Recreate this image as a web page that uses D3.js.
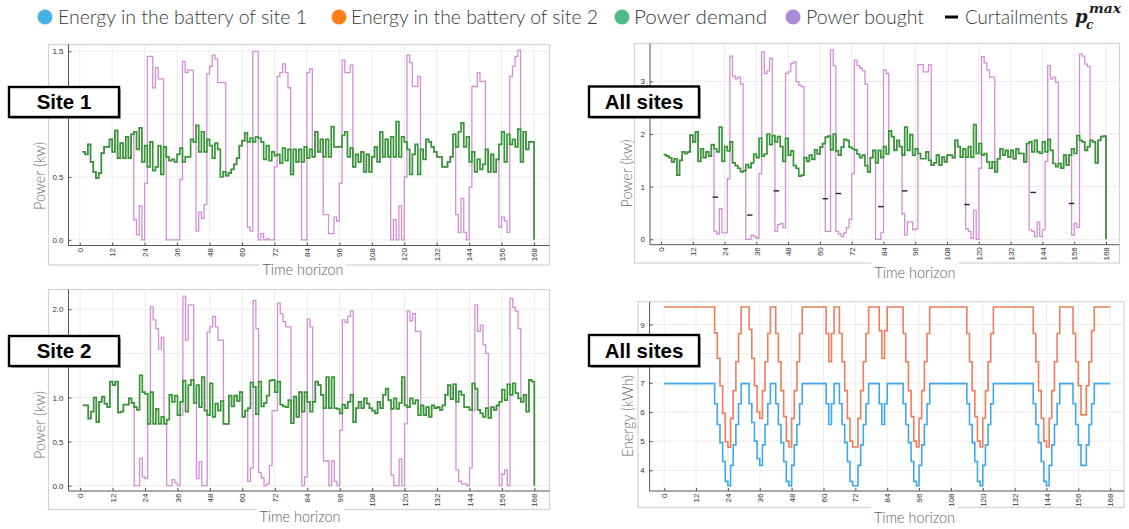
<!DOCTYPE html>
<html>
<head>
<meta charset="utf-8">
<script src="https://cdn.jsdelivr.net/npm/d3@7"></script>
<style>
  html, body { margin: 0; padding: 0; background: #fff; }
  svg { display: block; }
</style>
</head>
<body>
<svg id="chart" width="1129" height="529"></svg>
<script>
// ---------- data ----------
const hourTicks = [0, 12, 24, 36, 48, 60, 72, 84, 96, 108, 120, 132, 144, 156, 168];

const site1PowerTicks = [0, 0.5, 1.0, 1.5];
const site2PowerTicks = [0, 0.5, 1.0, 1.5, 2.0];
const totalPowerTicks = [0, 1, 2, 3];
const energyTicks = [4, 5, 6, 7, 8, 9];

// hourly power values, hours 1..168 (kW)
const site1Demand = [
  0.70,0.68,0.76,0.62,0.54,0.49,0.53,0.69,0.74,0.74,
  0.80,0.70,0.87,0.65,0.77,0.65,0.82,0.65,0.84,0.86,
  0.72,0.89,0.62,0.75,0.58,0.78,0.55,0.58,0.75,0.52,
  0.74,0.66,0.63,0.64,0.62,0.68,0.73,0.62,0.66,0.66,
  0.80,0.78,0.91,0.70,0.86,0.70,0.80,0.75,0.65,0.77,
  0.72,0.50,0.54,0.51,0.53,0.56,0.60,0.65,0.75,0.79,
  0.85,0.78,0.81,0.78,0.82,0.81,0.78,0.64,0.75,0.63,
  0.70,0.67,0.68,0.61,0.73,0.63,0.72,0.52,0.72,0.62,
  0.72,0.62,0.74,0.65,0.72,0.66,0.86,0.70,0.80,0.66,
  0.80,0.66,0.90,0.74,0.74,0.74,0.83,0.86,0.66,0.73,
  0.58,0.68,0.62,0.70,0.54,0.68,0.54,0.66,0.74,0.62,
  0.86,0.66,0.80,0.66,0.82,0.66,0.94,0.66,0.82,0.78,
  0.72,0.52,0.68,0.76,0.52,0.72,0.64,0.80,0.78,0.74,
  0.70,0.66,0.66,0.58,0.58,0.62,0.66,0.84,0.74,0.86,
  0.93,0.74,0.82,0.62,0.70,0.54,0.64,0.56,0.60,0.72,
  0.54,0.68,0.54,0.64,0.76,0.86,0.62,0.84,0.76,0.80,
  0.74,0.88,0.62,0.86,0.72,0.78,0.78,0
];
const site1Bought = [
  0.70,0.68,0.76,0.62,0.54,0.49,0.53,0.69,0.74,0.74,
  0.80,0.70,0.87,0.65,0.77,0.65,0.82,0.65,0.84,0.16,
  0.04,0.27,0.00,0.45,1.46,1.46,1.21,1.37,1.28,1.28,
  0.74,0.00,0.00,0.00,0.00,0.00,0.48,1.42,1.33,1.35,
  1.35,0.78,0.07,0.22,0.17,0.28,1.32,1.38,1.47,1.44,
  1.25,1.25,1.25,0.51,0.53,0.56,0.60,0.65,0.75,0.79,
  0.85,0.10,0.07,1.50,1.50,0.00,0.05,0.00,0.01,0.00,
  0.00,0.58,1.30,1.33,1.40,1.33,1.21,0.52,0.72,0.62,
  0.72,0.00,0.00,1.33,1.36,0.66,0.86,0.70,0.80,0.20,
  0.20,0.05,0.05,0.18,0.15,0.45,1.43,1.33,1.33,1.39,
  0.58,0.68,0.62,0.70,0.54,0.68,0.54,0.66,0.74,0.62,
  0.86,0.66,0.80,0.66,0.00,0.16,0.00,0.27,0.00,0.50,
  1.47,1.41,1.22,1.22,1.30,0.72,0.64,0.80,0.78,0.74,
  0.70,0.66,0.66,0.58,0.58,0.62,0.66,0.84,0.20,0.06,
  0.33,0.06,0.00,0.42,1.22,1.22,1.33,1.26,1.26,0.72,
  0.54,0.68,0.54,0.64,0.10,0.18,0.15,0.06,1.30,1.38,
  1.46,1.51,0.62,0.86,0.72,0.78,0.78,0
];

const site2Demand = [
  0.91,0.91,0.76,0.84,1.00,0.72,0.95,1.01,0.93,0.89,
  1.18,1.14,1.18,0.83,0.84,0.92,0.92,0.99,0.94,0.89,
  0.86,1.25,1.06,1.04,0.70,1.06,0.70,0.87,0.70,0.78,
  0.70,0.75,1.03,0.95,1.02,0.80,0.95,1.19,0.84,1.14,
  1.20,0.94,1.14,0.89,1.23,0.85,0.80,1.16,0.78,0.93,
  0.85,0.96,0.70,0.70,1.02,0.90,1.02,0.96,1.06,0.78,
  0.85,0.88,1.17,1.12,0.81,1.18,0.90,0.94,1.02,1.19,
  1.20,1.06,1.18,0.92,0.90,0.89,0.97,0.71,1.01,0.78,
  1.06,0.84,1.06,0.95,0.84,0.95,1.18,1.14,1.03,0.88,
  1.23,0.88,1.23,0.88,0.87,0.82,0.92,0.88,0.95,1.03,
  0.72,0.88,0.95,0.88,0.99,0.93,0.88,0.85,0.82,0.95,
  0.88,1.03,1.10,0.97,0.87,0.99,0.87,0.94,1.23,0.91,
  0.89,0.99,0.93,0.97,0.80,0.91,0.80,0.89,0.78,0.91,
  0.88,0.89,0.86,0.91,1.03,1.14,0.98,1.15,0.95,1.07,
  1.03,0.89,0.89,0.86,1.16,1.10,0.86,0.82,0.78,0.88,
  0.77,0.89,0.86,0.91,0.95,1.09,0.97,1.15,1.03,1.16,
  1.05,0.99,0.95,1.03,0.84,1.20,1.18,0
];
const site2Bought = [
  0.91,0.91,0.76,0.84,1.00,0.72,0.95,1.01,0.93,0.89,
  1.18,1.14,1.18,0.83,0.84,0.92,0.92,0.99,0.94,0.00,
  0.00,0.31,0.10,0.08,0.70,2.03,1.88,1.78,1.55,1.68,
  0.70,0.00,0.00,0.07,0.03,0.00,0.80,2.15,1.65,2.05,
  2.05,0.94,0.08,0.27,0.00,0.00,1.74,1.80,1.92,1.80,
  1.65,1.65,0.70,0.70,1.02,0.90,1.02,0.96,1.06,0.78,
  0.85,0.05,0.20,2.10,1.78,0.15,0.09,0.00,0.02,0.23,
  0.85,0.85,2.07,1.95,1.86,1.80,1.80,0.71,1.01,0.78,
  1.06,0.00,0.10,1.89,1.80,0.95,1.18,1.14,1.03,0.28,
  0.28,0.00,0.28,0.05,0.00,0.63,1.88,1.85,1.92,1.98,
  0.72,0.88,0.95,0.88,0.99,0.93,0.88,0.85,0.82,0.95,
  0.88,1.03,1.10,0.97,0.12,0.00,0.00,0.30,0.00,0.70,
  1.98,1.87,1.95,1.75,1.75,0.91,0.80,0.89,0.78,0.91,
  0.88,0.89,0.86,0.91,1.03,1.14,0.98,1.15,0.18,0.05,
  0.02,0.02,0.00,0.20,0.85,2.05,1.75,1.82,1.60,1.50,
  0.77,0.89,0.86,0.91,0.00,0.13,0.18,0.00,2.12,2.02,
  1.98,1.78,0.95,1.03,0.84,1.20,1.18,0
];

const totalDemand = [
  1.61,1.58,1.55,1.47,1.53,1.22,1.50,1.66,1.63,1.66,
  1.98,1.85,2.04,1.48,1.72,1.55,1.66,1.58,1.80,1.72,
  1.66,2.13,1.48,1.76,1.68,1.85,1.45,1.40,1.35,1.28,
  1.30,1.42,1.36,1.45,1.62,1.55,1.92,1.58,1.62,2.00,
  1.80,1.97,1.85,1.95,1.76,1.48,1.92,1.60,1.68,1.40,
  1.35,1.20,1.22,1.55,1.48,1.60,1.52,1.70,1.62,1.75,
  1.82,1.94,1.96,1.70,2.00,1.68,1.60,1.75,1.90,1.88,
  1.75,1.72,1.70,1.62,1.55,1.60,1.40,1.28,1.55,1.69,
  1.45,1.69,1.55,1.76,1.62,2.06,1.95,1.69,1.88,1.76,
  1.60,2.13,1.69,1.99,1.60,1.72,1.63,1.53,1.53,1.66,
  1.50,1.41,1.45,1.60,1.41,1.56,1.47,1.60,1.60,1.55,
  1.88,1.76,1.56,1.72,1.56,1.76,1.56,2.18,1.63,1.82,
  1.60,1.63,1.47,1.35,1.47,1.28,1.53,1.72,1.60,1.69,
  1.56,1.69,1.53,1.72,1.63,1.63,1.47,1.82,1.85,1.66,
  1.88,1.66,1.63,1.85,1.66,1.90,1.69,1.44,1.38,1.44,
  1.35,1.60,1.41,1.60,1.72,1.63,1.97,1.88,1.85,1.69,
  1.76,1.88,1.85,1.45,1.88,1.95,1.96,0
];
const totalBought = [
  1.61,1.58,1.55,1.47,1.53,1.22,1.50,1.66,1.63,1.66,
  1.98,1.85,2.04,1.48,1.72,1.55,1.66,1.58,1.80,0.15,
  0.10,0.58,0.12,0.12,1.15,3.48,3.10,3.05,3.08,2.95,
  1.30,0.00,0.00,0.08,0.05,0.02,1.25,3.56,3.15,3.20,
  3.44,1.97,0.15,0.28,0.30,0.22,3.15,3.18,3.34,3.37,
  2.99,2.93,2.90,1.55,1.48,1.60,1.52,1.70,1.62,1.75,
  1.82,0.15,0.15,3.60,3.30,0.15,0.10,0.05,0.12,0.22,
  0.38,1.25,3.40,3.30,3.25,3.20,2.95,1.28,1.55,1.69,
  0.00,0.00,0.13,3.22,3.15,2.06,1.95,1.69,1.88,1.76,
  0.48,0.08,0.33,0.33,0.18,0.20,3.32,3.32,3.18,3.18,
  3.32,1.41,1.45,1.60,1.41,1.56,1.47,1.60,1.60,1.55,
  1.88,1.76,1.56,1.72,0.20,0.15,0.02,0.55,0.00,1.35,
  3.47,3.35,3.22,3.08,3.08,1.28,1.53,1.72,1.60,1.69,
  1.56,1.69,1.53,1.72,1.63,1.63,1.47,1.82,0.18,0.15,
  0.05,0.33,0.05,0.18,1.48,3.30,3.05,3.08,2.98,1.44,
  1.35,1.60,1.41,1.60,0.08,0.30,0.22,3.52,3.48,3.33,
  3.28,1.88,1.85,1.45,1.88,1.95,1.96,0
];

// curtailment markers (hour, kW)
const curtailHours  = [20.5, 33.5, 43.5, 62, 67, 83, 92, 115.5, 140.5, 155];
const curtailValues = [0.80, 0.46, 0.92, 0.77, 0.87, 0.62, 0.92, 0.66, 0.89, 0.68];

// battery energy, hours 0..168 (kWh)
const energySite1 = [
  6.97,6.97,6.97,6.97,6.97,6.97,6.97,6.97,6.97,6.97,      // 0-9
  6.97,6.97,6.97,6.97,6.97,6.97,6.97,6.97,6.97,           // 10-18
  6.28,5.57,4.95,4.30,3.62,3.47,4.17,4.87,5.57,6.28,      // 19-28
  6.97,6.97,6.97,                                          // 29-31
  6.28,5.64,5.00,4.40,4.17,4.87,5.57,6.28,                // 32-39
  6.97,6.97,                                               // 40-41
  6.28,5.57,4.95,4.30,3.62,3.47,4.17,4.87,5.57,6.28,      // 42-51
  6.97,6.97,6.97,6.97,6.97,6.97,6.97,6.97,6.97,           // 52-60
  6.28,5.57,6.28,                                          // 61-63
  6.97,6.97,                                               // 64-65
  6.28,5.57,4.95,4.30,3.62,3.47,3.47,4.17,4.87,5.57,6.28, // 66-76
  6.97,6.97,6.97,6.97,                                     // 77-80
  6.28,5.57,6.28,                                          // 81-83
  6.97,6.97,6.97,6.97,6.97,6.97,                           // 84-89
  6.28,5.57,4.95,4.30,3.62,3.47,4.17,4.87,5.57,6.28,      // 90-99
  6.97,6.97,6.97,6.97,6.97,6.97,6.97,6.97,6.97,6.97,6.97,6.97,6.97,6.97, // 100-113
  6.28,5.57,4.95,4.30,3.62,3.47,4.17,4.87,5.57,6.28,      // 114-123
  6.97,6.97,6.97,6.97,6.97,6.97,6.97,6.97,6.97,6.97,6.97,6.97,6.97,6.97,6.97, // 124-138
  6.28,5.57,4.95,4.30,3.62,3.47,4.17,4.87,5.57,6.28,      // 139-148
  6.97,6.97,6.97,6.97,6.97,                                // 149-153
  6.28,5.57,4.87,4.17,4.17,4.87,5.57,6.28,                // 154-161
  6.97,6.97,6.97,6.97,6.97,6.97,6.97                       // 162-168
];
const energySite2 = [
  9.6,9.6,9.6,9.6,9.6,9.6,9.6,9.6,9.6,9.6,                // 0-9
  9.6,9.6,9.6,9.6,9.6,9.6,9.6,9.6,9.6,                    // 10-18
  8.71,7.84,6.90,5.95,4.98,4.79,5.78,6.73,7.72,8.69,      // 19-28
  9.6,9.6,9.6,                                             // 29-31
  8.83,7.84,6.90,6.00,5.78,6.73,7.72,8.69,                // 32-39
  9.6,9.6,                                                 // 40-41
  8.69,7.72,6.73,5.84,5.00,4.80,5.78,6.73,7.72,8.69,      // 42-51
  9.6,9.6,9.6,9.6,9.6,9.6,9.6,9.6,9.6,                    // 52-60
  8.69,7.72,8.69,                                          // 61-63
  9.6,9.6,                                                 // 64-65
  8.69,7.72,6.73,5.78,5.00,4.80,4.80,5.78,6.73,7.72,8.69, // 66-76
  9.6,9.6,9.6,9.6,                                         // 77-80
  8.79,7.84,8.79,                                          // 81-83
  9.6,9.6,9.6,9.6,9.6,9.6,                                 // 84-89
  8.69,7.72,6.73,5.84,5.00,4.80,5.78,6.73,7.72,8.69,      // 90-99
  9.6,9.6,9.6,9.6,9.6,9.6,9.6,9.6,9.6,9.6,9.6,9.6,9.6,9.6, // 100-113
  8.69,7.72,6.73,5.84,5.00,4.80,5.78,6.73,7.72,8.69,      // 114-123
  9.6,9.6,9.6,9.6,9.6,9.6,9.6,9.6,9.6,9.6,9.6,9.6,9.6,9.6,9.6, // 124-138
  8.69,7.72,6.73,5.78,5.00,4.80,5.78,6.73,7.72,8.69,      // 139-148
  9.6,9.6,9.6,9.6,9.6,                                     // 149-153
  8.69,7.72,6.90,5.90,5.90,6.90,7.72,8.79,                // 154-161
  9.6,9.6,9.6,9.6,9.6,9.6,9.6                              // 162-168
];

// ---------- styling ----------
const COLORS = {
  demand: "#379537",
  bought: "#d48ed8",
  energy1: "#3ea8ef",
  energy2: "#ef7d5b",
  legendBlue: "#45b1e6",
  legendOrange: "#ff7f1a",
  legendGreen: "#4fba84",
  legendPurple: "#a98ad9"
};
const LIGHT_FONT = "Lato, 'Helvetica Neue', 'Open Sans', sans-serif";
const TICK_FONT = "'Liberation Sans', Arial, sans-serif";
const BOLD_FONT = "'Liberation Sans', Arial, Helvetica, sans-serif";

const svg = d3.select("#chart");

const panels = [
  {
    frame: [48.5, 44.5, 549.5, 265], left: 68.5, right: 549.5, top: 44.5, bottom: 245.5,
    xDomain: [-4.15, 173.7], yDomain: [-0.045, 1.554], yTicks: site1PowerTicks, fmt: d3.format(".1f"),
    series: [
      { values: site1Bought, start: 1, color: COLORS.bought, width: 1.3 },
      { values: site1Demand, start: 1, color: COLORS.demand, width: 1.7 }
    ],
    ylabel: "Power (kw)", ylabelPos: [38.5, 176], ylabelLen: 68,
    xlabelPos: [303, 275], tag: "Site 1", tagBox: [9, 87, 110, 30]
  },
  {
    frame: [634.5, 43.5, 1119.5, 263], left: 650, right: 1119.5, top: 43.5, bottom: 244.7,
    xDomain: [-4.16, 173.1], yDomain: [-0.103, 3.72], yTicks: totalPowerTicks, fmt: d3.format("d"),
    series: [
      { values: totalBought, start: 1, color: COLORS.bought, width: 1.3 },
      { values: totalDemand, start: 1, color: COLORS.demand, width: 1.7 }
    ],
    curtail: true,
    ylabel: "Power (kw)", ylabelPos: [625.5, 173.5], ylabelLen: 68,
    xlabelPos: [915, 278], tag: "All sites", tagBox: [589, 86.5, 110, 30.5]
  },
  {
    frame: [48.5, 289.5, 549.5, 509.5], left: 68.5, right: 549.5, top: 289.5, bottom: 491,
    xDomain: [-4.3, 173.6], yDomain: [-0.06, 2.224], yTicks: site2PowerTicks, fmt: d3.format(".1f"),
    series: [
      { values: site2Bought, start: 1, color: COLORS.bought, width: 1.3 },
      { values: site2Demand, start: 1, color: COLORS.demand, width: 1.7 }
    ],
    ylabel: "Power (kw)", ylabelPos: [39, 425], ylabelLen: 68,
    xlabelPos: [300, 521.5], tag: "Site 2", tagBox: [9, 336, 110, 30]
  },
  {
    frame: [638, 301.7, 1124, 507.5], left: 649.6, right: 1124, top: 301.7, bottom: 491,
    xDomain: [-5.5, 173.2], yDomain: [3.29, 9.78], yTicks: energyTicks, fmt: d3.format("d"),
    series: [
      { values: energySite2, start: 0, color: COLORS.energy2, width: 1.6 },
      { values: energySite1, start: 0, color: COLORS.energy1, width: 1.6 }
    ],
    ylabel: "Energy (kWh)", ylabelPos: [627, 416], ylabelLen: 82,
    xlabelPos: [914.5, 523], tag: "All sites", tagBox: [589, 335, 110, 31]
  }
];

function drawPanel(p) {
  const g = svg.append("g");
  const x = d3.scaleLinear().domain(p.xDomain).range([p.left, p.right]);
  const y = d3.scaleLinear().domain(p.yDomain).range([p.bottom, p.top]);
  const [bx, by, bw, bh] = p.tagBox;

  // light border around the plot image
  g.append("rect")
    .attr("x", p.frame[0]).attr("y", p.frame[1])
    .attr("width", p.frame[2] - p.frame[0]).attr("height", p.frame[3] - p.frame[1])
    .attr("fill", "none").attr("stroke", "#d3d3d3").attr("stroke-width", 1.2);

  // grid
  g.append("g").selectAll("line").data(hourTicks).join("line")
    .attr("x1", d => x(d)).attr("x2", d => x(d))
    .attr("y1", p.top).attr("y2", p.bottom)
    .attr("stroke", "#ececec").attr("stroke-width", 1);
  g.append("g").selectAll("line").data(p.yTicks).join("line")
    .attr("x1", p.left).attr("x2", p.right)
    .attr("y1", d => y(d)).attr("y2", d => y(d))
    .attr("stroke", "#ececec").attr("stroke-width", 1);

  // series as step lines
  p.series.forEach(s => {
    const line = d3.line()
      .x((d, i) => x(i + s.start))
      .y(d => y(d))
      .curve(d3.curveStepAfter);
    g.append("path")
      .attr("d", line(s.values))
      .attr("fill", "none")
      .attr("stroke", s.color)
      .attr("stroke-width", s.width)
      .attr("stroke-linejoin", "miter");
  });

  if (p.curtail) {
    g.append("g").selectAll("line").data(curtailHours).join("line")
      .attr("x1", (d) => x(d) - 2.7).attr("x2", (d) => x(d) + 2.7)
      .attr("y1", (d, i) => y(curtailValues[i])).attr("y2", (d, i) => y(curtailValues[i]))
      .attr("stroke", "#222").attr("stroke-width", 1.4);
  }

  // axes
  const xAxis = g.append("g")
    .attr("transform", `translate(0,${p.bottom})`)
    .call(d3.axisBottom(x).tickValues(hourTicks).tickSize(-3).tickSizeOuter(0).tickFormat(d3.format("d")));
  const yAxis = g.append("g")
    .attr("transform", `translate(${p.left},0)`)
    .call(d3.axisLeft(y).tickValues(p.yTicks).tickSize(-3).tickSizeOuter(0).tickPadding(5).tickFormat(p.fmt));

  [xAxis, yAxis].forEach(a => {
    a.attr("font-family", TICK_FONT).attr("font-size", 8);
    a.select(".domain").attr("stroke", "#555").attr("stroke-width", 1);
    a.selectAll(".tick line").attr("stroke", "#555");
    a.selectAll(".tick text").attr("fill", "#333");
  });
  xAxis.select(".domain").attr("d", `M${p.left},0H${p.right}`);
  yAxis.select(".domain").attr("d", `M0,${p.bottom}V${p.top}`);
  xAxis.selectAll(".tick text")
    .attr("transform", "rotate(-90)")
    .attr("text-anchor", "end")
    .attr("x", -2.5).attr("y", 0).attr("dy", "0.33em");
  // tick labels sitting under the panel tag are hidden by it
  yAxis.selectAll(".tick text")
    .filter(d => y(d) > by - 5 && y(d) < by + bh + 5)
    .remove();

  // axis titles
  const xl = g.append("text")
    .attr("x", p.xlabelPos[0]).attr("y", p.xlabelPos[1])
    .attr("text-anchor", "middle")
    .attr("font-family", LIGHT_FONT).attr("font-weight", 300)
    .attr("font-size", 16.5).attr("fill", "#5e5e5e")
    .attr("textLength", 81).attr("lengthAdjust", "spacingAndGlyphs")
    .text("Time horizon");
  const bb = xl.node().getBBox();
  g.insert("rect", function () { return xl.node(); })
    .attr("x", bb.x - 3).attr("y", bb.y - 1).attr("width", bb.width + 6).attr("height", bb.height + 2)
    .attr("fill", "#fff");

  g.append("text")
    .attr("transform", `translate(${p.ylabelPos[0]},${p.ylabelPos[1]}) rotate(-90)`)
    .attr("text-anchor", "middle").attr("dominant-baseline", "central")
    .attr("font-family", LIGHT_FONT).attr("font-weight", 300)
    .attr("font-size", 15.5).attr("fill", "#707070")
    .attr("textLength", p.ylabelLen).attr("lengthAdjust", "spacingAndGlyphs")
    .text(p.ylabel);

  // panel tag
  g.append("rect").attr("x", bx + 2).attr("y", by + 2).attr("width", bw).attr("height", bh)
    .attr("fill", "#666").attr("opacity", 0.55);
  g.append("rect").attr("x", bx).attr("y", by).attr("width", bw).attr("height", bh)
    .attr("fill", "#fff").attr("stroke", "#000").attr("stroke-width", 2.4);
  g.append("text")
    .attr("x", bx + bw / 2).attr("y", by + bh / 2 + 7.3)
    .attr("text-anchor", "middle")
    .attr("font-family", BOLD_FONT).attr("font-weight", "bold")
    .attr("font-size", 20.5).attr("fill", "#000")
    .text(p.tag);
}

panels.forEach(drawPanel);

// ---------- legend ----------
const legendItems = [
  { label: "Energy in the battery of site 1", color: COLORS.legendBlue,   cx: 45,  tx: 58,  len: 249 },
  { label: "Energy in the battery of site 2", color: COLORS.legendOrange, cx: 339, tx: 351, len: 247 },
  { label: "Power demand",                    color: COLORS.legendGreen,  cx: 622, tx: 634, len: 133 },
  { label: "Power bought",                    color: COLORS.legendPurple, cx: 793, tx: 806, len: 118 }
];
const legend = svg.append("g");
legendItems.forEach(it => {
  legend.append("circle").attr("cx", it.cx).attr("cy", 17).attr("r", 7.5).attr("fill", it.color);
  legend.append("text")
    .attr("x", it.tx).attr("y", 24)
    .attr("font-family", LIGHT_FONT).attr("font-weight", 300)
    .attr("font-size", 19.5).attr("fill", "#3a3a3a")
    .attr("textLength", it.len).attr("lengthAdjust", "spacingAndGlyphs")
    .text(it.label);
});
legend.append("line").attr("x1", 945).attr("x2", 958).attr("y1", 17).attr("y2", 17)
  .attr("stroke", "#000").attr("stroke-width", 3);
legend.append("text")
  .attr("x", 965).attr("y", 24)
  .attr("font-family", LIGHT_FONT).attr("font-weight", 300)
  .attr("font-size", 19.5).attr("fill", "#3a3a3a")
  .attr("textLength", 103).attr("lengthAdjust", "spacingAndGlyphs")
  .text("Curtailments");
const mathFont = "'DejaVu Serif', 'Liberation Serif', serif";
legend.append("text").attr("x", 1075).attr("y", 23)
  .attr("font-family", mathFont).attr("font-style", "italic").attr("font-weight", "bold")
  .attr("font-size", 18).attr("fill", "#222").text("p");
legend.append("text").attr("x", 1086).attr("y", 29)
  .attr("font-family", mathFont).attr("font-style", "italic").attr("font-weight", "bold")
  .attr("font-size", 12).attr("fill", "#222").text("c");
legend.append("text").attr("x", 1089).attr("y", 13)
  .attr("font-family", mathFont).attr("font-style", "italic").attr("font-weight", "bold")
  .attr("font-size", 12.5).attr("fill", "#222")
  .attr("textLength", 32).attr("lengthAdjust", "spacingAndGlyphs").text("max");
</script>
</body>
</html>
